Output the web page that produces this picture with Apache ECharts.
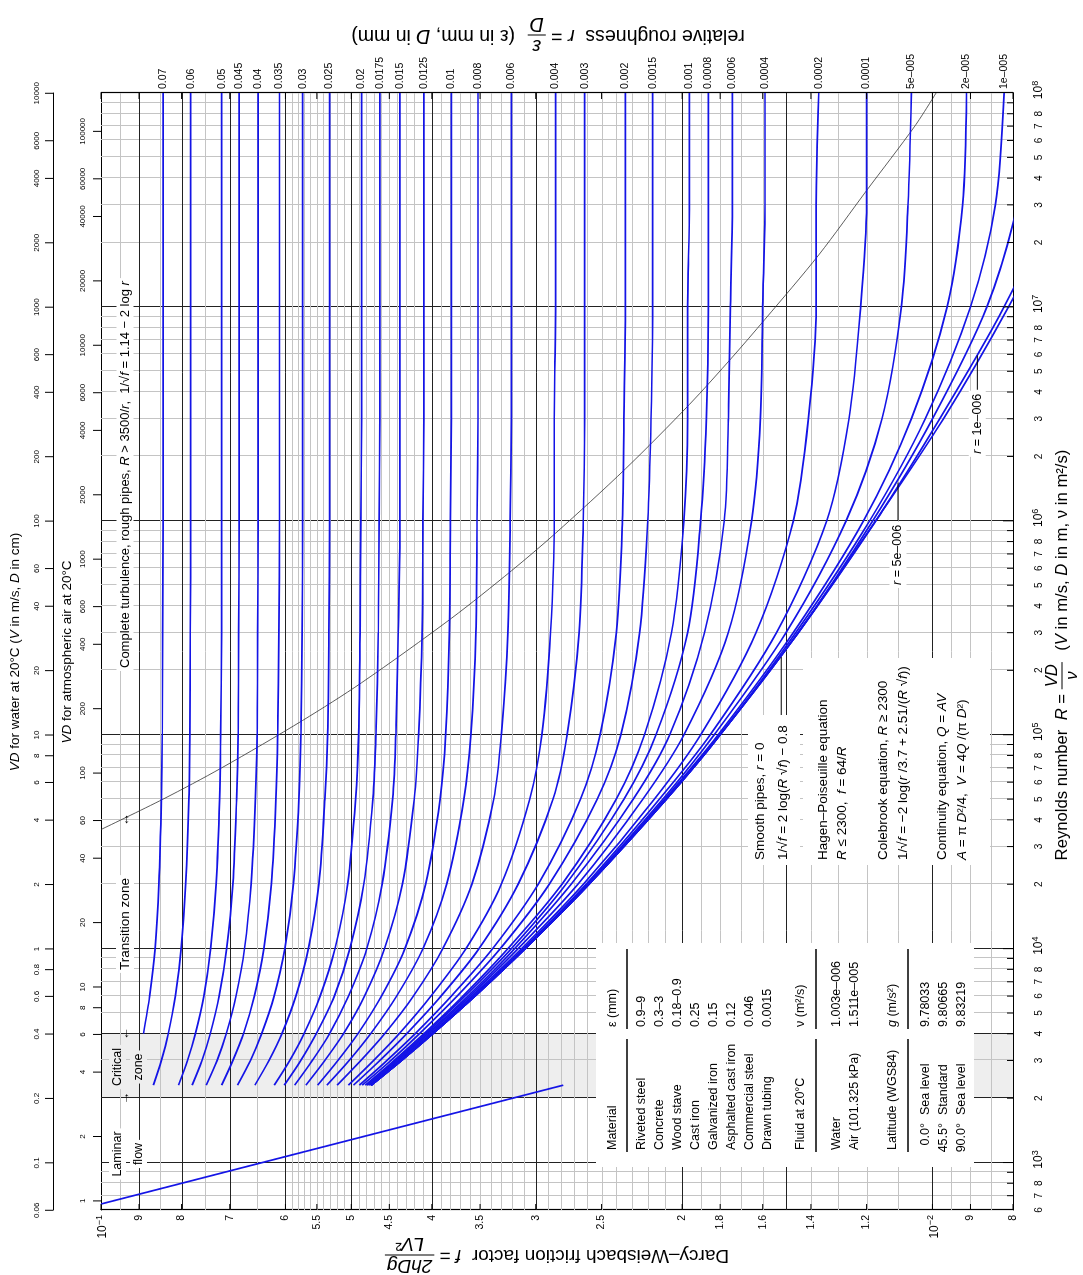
<!DOCTYPE html>
<html>
<head>
<meta charset="utf-8">
<title>Moody diagram</title>
<script src="https://cdn.jsdelivr.net/npm/echarts@6.0.0/dist/echarts.min.js"></script>
<style>
  html, body { margin: 0; padding: 0; background: #fff; width: 1083px; height: 1275px; overflow: hidden; }
  /* the diagram is laid out landscape and then turned a quarter turn counter-clockwise */
  #chart { position: absolute; left: 0; top: 0; width: 1275px; height: 1083px;
           transform-origin: 0 0; transform: translate(0, 1275px) rotate(-90deg); }
</style>
</head>
<body>
<div id="chart"></div>
<script>
const FONT = '"Liberation Sans", Arial, Helvetica, sans-serif';
const BLUE = '#1414e6';
const GRID_LIGHT = '#c4c4c4';
const GRID_DARK = '#222222';

// axis extents
const reMin = 600, reMax = 1e8;
const fMin = 0.008, fMax = 0.1;
const nuWater = 1.003e-6;   // m²/s, water at 20 °C
const nuAir = 1.511e-5;     // m²/s, air at 20 °C and 101.325 kPa

// Reynolds numbers at which the friction factor of every curve is listed
const reynoldsPoints = [2300, 3000, 4000, 6000, 1e4, 2e4, 5e4, 1e5, 3e5, 1e6, 3e6, 1e7, 3e7, 1e8];

// Colebrook curves, one friction-factor list per relative roughness
const f_0_07   = [null, null, 0.0889, 0.0874, 0.0861, 0.0852, 0.0846, 0.0844, 0.0843, 0.0842, 0.0842, 0.0842, 0.0842, 0.0842];
const f_0_06   = [0.0865, 0.0846, 0.0830, 0.0814, 0.0801, 0.0791, 0.0784, 0.0782, 0.0781, 0.0780, 0.0780, 0.0780, 0.0780, 0.0780];
const f_0_05   = [0.0807, 0.0787, 0.0770, 0.0752, 0.0738, 0.0727, 0.0720, 0.0718, 0.0716, 0.0716, 0.0716, 0.0716, 0.0716, 0.0716];
const f_0_045  = [0.0777, 0.0756, 0.0739, 0.0721, 0.0706, 0.0694, 0.0687, 0.0684, 0.0683, 0.0682, 0.0682, 0.0682, 0.0682, 0.0682];
const f_0_04   = [0.0747, 0.0725, 0.0707, 0.0688, 0.0672, 0.0660, 0.0652, 0.0649, 0.0648, 0.0647, 0.0647, 0.0647, 0.0647, 0.0647];
const f_0_035  = [0.0716, 0.0694, 0.0674, 0.0654, 0.0637, 0.0624, 0.0616, 0.0613, 0.0611, 0.0610, 0.0610, 0.0610, 0.0610, 0.0610];
const f_0_03   = [0.0685, 0.0661, 0.0641, 0.0619, 0.0601, 0.0587, 0.0578, 0.0575, 0.0573, 0.0572, 0.0572, 0.0572, 0.0572, 0.0572];
const f_0_025  = [0.0653, 0.0628, 0.0606, 0.0583, 0.0563, 0.0547, 0.0538, 0.0534, 0.0532, 0.0531, 0.0531, 0.0531, 0.0531, 0.0531];
const f_0_02   = [0.0619, 0.0593, 0.0570, 0.0545, 0.0523, 0.0505, 0.0494, 0.0490, 0.0488, 0.0487, 0.0486, 0.0486, 0.0486, 0.0486];
const f_0_0175 = [0.0602, 0.0575, 0.0551, 0.0524, 0.0502, 0.0483, 0.0471, 0.0467, 0.0464, 0.0463, 0.0462, 0.0462, 0.0462, 0.0462];
const f_0_015  = [0.0585, 0.0557, 0.0531, 0.0504, 0.0479, 0.0459, 0.0446, 0.0442, 0.0439, 0.0437, 0.0437, 0.0437, 0.0437, 0.0437];
const f_0_0125 = [0.0567, 0.0538, 0.0511, 0.0482, 0.0456, 0.0434, 0.0420, 0.0415, 0.0411, 0.0410, 0.0409, 0.0409, 0.0409, 0.0409];
const f_0_01   = [0.0549, 0.0519, 0.0491, 0.0460, 0.0431, 0.0407, 0.0391, 0.0385, 0.0381, 0.0380, 0.0379, 0.0379, 0.0379, 0.0379];
const f_0_008  = [0.0535, 0.0503, 0.0474, 0.0441, 0.0410, 0.0384, 0.0366, 0.0359, 0.0354, 0.0353, 0.0352, 0.0352, 0.0352, 0.0352];
const f_0_006  = [0.0520, 0.0487, 0.0456, 0.0421, 0.0388, 0.0358, 0.0337, 0.0330, 0.0324, 0.0322, 0.0321, 0.0321, 0.0321, 0.0321];
const f_0_004  = [0.0504, 0.0470, 0.0438, 0.0401, 0.0364, 0.0330, 0.0305, 0.0295, 0.0288, 0.0285, 0.0285, 0.0284, 0.0284, 0.0284];
const f_0_003  = [0.0497, 0.0462, 0.0429, 0.0390, 0.0351, 0.0315, 0.0286, 0.0275, 0.0266, 0.0263, 0.0262, 0.0262, 0.0262, 0.0262];
const f_0_002  = [0.0489, 0.0453, 0.0419, 0.0379, 0.0338, 0.0298, 0.0265, 0.0251, 0.0240, 0.0236, 0.0235, 0.0234, 0.0234, 0.0234];
const f_0_0015 = [0.0485, 0.0448, 0.0414, 0.0373, 0.0331, 0.0289, 0.0253, 0.0237, 0.0225, 0.0220, 0.0218, 0.0217, 0.0217, 0.0217];
const f_0_001  = [0.0481, 0.0444, 0.0409, 0.0367, 0.0324, 0.0279, 0.0240, 0.0222, 0.0206, 0.0199, 0.0197, 0.0197, 0.0196, 0.0196];
const f_0_0008 = [0.0479, 0.0442, 0.0407, 0.0365, 0.0321, 0.0276, 0.0235, 0.0215, 0.0197, 0.0190, 0.0187, 0.0186, 0.0186, 0.0186];
const f_0_0006 = [0.0478, 0.0441, 0.0405, 0.0362, 0.0318, 0.0272, 0.0229, 0.0207, 0.0188, 0.0178, 0.0176, 0.0175, 0.0174, 0.0174];
const f_0_0004 = [0.0476, 0.0439, 0.0403, 0.0360, 0.0315, 0.0267, 0.0223, 0.0199, 0.0176, 0.0165, 0.0161, 0.0160, 0.0159, 0.0159];
const f_0_0002 = [0.0474, 0.0437, 0.0401, 0.0358, 0.0312, 0.0263, 0.0216, 0.0190, 0.0163, 0.0147, 0.0141, 0.0138, 0.0138, 0.0137];
const f_0_0001 = [0.0474, 0.0436, 0.0400, 0.0356, 0.0310, 0.0261, 0.0213, 0.0185, 0.0154, 0.0134, 0.0126, 0.0122, 0.0120, 0.0120];
const f_5e_5   = [0.0473, 0.0436, 0.0400, 0.0356, 0.0310, 0.0260, 0.0211, 0.0183, 0.0150, 0.0127, 0.0115, 0.0109, 0.0107, 0.0106];
const f_2e_5   = [0.0473, 0.0435, 0.0399, 0.0355, 0.0309, 0.0259, 0.0210, 0.0181, 0.0147, 0.0121, 0.0106, 0.0096, 0.0092, 0.0091];
const f_1e_5   = [0.0473, 0.0435, 0.0399, 0.0355, 0.0309, 0.0259, 0.0209, 0.0180, 0.0146, 0.0119, 0.0102, 0.0090, 0.0084, 0.0082];
const f_5e_6   = [0.0473, 0.0435, 0.0399, 0.0355, 0.0309, 0.0259, 0.0209, 0.0180, 0.0145, 0.0118, 0.0100, 0.0086, 0.0079, 0.0075];
const f_1e_6   = [0.0473, 0.0435, 0.0399, 0.0355, 0.0309, 0.0259, 0.0209, 0.0180, 0.0145, 0.0117, 0.0098, 0.0082, 0.0072, 0.0065];
const f_smooth = [0.0473, 0.0435, 0.0399, 0.0355, 0.0309, 0.0259, 0.0209, 0.0180, 0.0145, 0.0117, 0.0097, 0.0081, 0.0070, 0.0059];

// curves labelled at the right-hand edge
const labelledCurves = [
  ['0.07', f_0_07], ['0.06', f_0_06], ['0.05', f_0_05], ['0.045', f_0_045], ['0.04', f_0_04],
  ['0.035', f_0_035], ['0.03', f_0_03], ['0.025', f_0_025], ['0.02', f_0_02], ['0.0175', f_0_0175],
  ['0.015', f_0_015], ['0.0125', f_0_0125], ['0.01', f_0_01], ['0.008', f_0_008], ['0.006', f_0_006],
  ['0.004', f_0_004], ['0.003', f_0_003], ['0.002', f_0_002], ['0.0015', f_0_0015], ['0.001', f_0_001],
  ['0.0008', f_0_0008], ['0.0006', f_0_0006], ['0.0004', f_0_0004], ['0.0002', f_0_0002], ['0.0001', f_0_0001],
  ['5e–005', f_5e_5], ['2e–005', f_2e_5], ['1e–005', f_1e_5]
];
// curves that leave through the bottom edge, labelled inside the plot
const unlabelledCurves = [['r = 5e-006', f_5e_6], ['r = 1e-006', f_1e_6], ['r = 0', f_smooth]];

// laminar flow, f = 64/R
const laminarRe = [640, 2300];
const laminarF = [0.1, 0.0278];

// onset of complete turbulence, R = 3500/r
const roughLimitRe = [36050, 50000, 70000, 116700, 175000, 350000, 583300, 875000, 1.75e6, 3.5e6, 5.83e6, 8.75e6, 1.75e7, 3.5e7, 7e7, 1e8];
const roughLimitF  = [0.1, 0.0842, 0.0716, 0.0572, 0.0486, 0.0379, 0.0321, 0.0284, 0.0234, 0.0196, 0.0174, 0.0159, 0.0137, 0.0120, 0.0105, 0.0099];

// critical zone and the zone-boundary arrows of the caption row
const criticalRe = [2000, 4000];
const zoneArrowRe = [2000, 4000, 40000];
const zoneArrowGlyph = ['→', '←', '↔'];

// friction-factor axis
const fTickValues = [0.1, 0.09, 0.08, 0.07, 0.06, 0.055, 0.05, 0.045, 0.04, 0.035, 0.03, 0.025, 0.02, 0.018, 0.016, 0.014, 0.012, 0.01, 0.009, 0.008];
const fTickLabels = ['10^−1', '9', '8', '7', '6', '5.5', '5', '4.5', '4', '3.5', '3', '2.5', '2', '1.8', '1.6', '1.4', '1.2', '10^−2', '9', '8'];
const fDarkLines = [0.01, 0.015, 0.02, 0.03, 0.04, 0.05, 0.06, 0.07, 0.08, 0.09];

// Reynolds-number axis labels
const reLabelValues = [600, 700, 800,
  1e3, 2e3, 3e3, 4e3, 5e3, 6e3, 7e3, 8e3,
  1e4, 2e4, 3e4, 4e4, 5e4, 6e4, 7e4, 8e4,
  1e5, 2e5, 3e5, 4e5, 5e5, 6e5, 7e5, 8e5,
  1e6, 2e6, 3e6, 4e6, 5e6, 6e6, 7e6, 8e6,
  1e7, 2e7, 3e7, 4e7, 5e7, 6e7, 7e7, 8e7, 1e8];
const reLabelTexts = ['6', '7', '8',
  '10^3', '2', '3', '4', '5', '6', '7', '8',
  '10^4', '2', '3', '4', '5', '6', '7', '8',
  '10^5', '2', '3', '4', '5', '6', '7', '8',
  '10^6', '2', '3', '4', '5', '6', '7', '8',
  '10^7', '2', '3', '4', '5', '6', '7', '8', '10^8'];
const reDarkLines = [1e3, 2e3, 4e3, 1e4, 1e5, 1e6, 1e7];

// VD scales (V in m/s, D in cm)
const waterVDLabels = [0.06, 0.1, 0.2, 0.4, 0.6, 0.8, 1, 2, 4, 6, 8, 10, 20, 40, 60, 100, 200, 400, 600, 1000, 2000, 4000, 6000, 10000];
const airVDLabels = [1, 2, 4, 6, 8, 10, 20, 40, 60, 100, 200, 400, 600, 1000, 2000, 4000, 6000, 10000, 20000, 40000, 60000, 100000];

// ---------------------------------------------------------------- helpers
const measureCtx = document.createElement('canvas').getContext('2d');
function tokenWidth(tokens, size) {
  let w = 0;
  for (const [t, it] of tokens) {
    measureCtx.font = (it ? 'italic ' : '') + size + 'px ' + FONT;
    w += measureCtx.measureText(t).width;
  }
  return w;
}
function richTokens(tokens) {
  return tokens.map(([t, it]) => (it ? '{i|' : '{n|') + t + '}').join('');
}
function richStyles(size) {
  return {
    n: { fontSize: size, fontFamily: FONT, fill: '#000' },
    i: { fontSize: size, fontFamily: FONT, fontStyle: 'italic', fill: '#000' }
  };
}
function tokText(x, y, tokens, size, align, extra) {
  return Object.assign({
    type: 'text', x, y, z: 60,
    style: { text: richTokens(tokens), rich: richStyles(size), fontSize: size, fontFamily: FONT,
             fill: '#000', align: align || 'left', verticalAlign: 'middle' }
  }, extra || {});
}
// "10^3" → 10 with a raised 3
function expLabel(str, size) {
  const m = /^(.*)\^(.*)$/.exec(str);
  if (!m) return { text: str, rich: undefined };
  return {
    text: '{b|' + m[1] + '}{s|' + m[2] + '}',
    rich: {
      b: { fontSize: size, fontFamily: FONT, fill: '#000' },
      s: { fontSize: Math.round(size * 0.72), fontFamily: FONT, fill: '#000', padding: [0, 0, Math.round(size * 0.62), 0] }
    }
  };
}
function labelEl(x, y, str, size, align, vAlign) {
  const r = expLabel(str, size);
  return { type: 'text', x, y,
    style: { text: r.text, rich: r.rich, fontSize: size, fontFamily: FONT, fill: '#000', align, verticalAlign: vAlign } };
}

// title line made of text runs and stacked fractions, centred on 0
function titleChildren(pieces, size) {
  const kids = [];
  let x = 0;
  for (const p of pieces) {
    if (p.frac) {
      const wn = tokenWidth(p.frac[0], size), wd = tokenWidth(p.frac[1], size);
      const w = Math.max(wn, wd) + 4;
      kids.push(tokText(x + w / 2, -size * 0.56, p.frac[0], size, 'center'));
      kids.push(tokText(x + w / 2, size * 0.6, p.frac[1], size, 'center'));
      kids.push({ type: 'line', z: 60, shape: { x1: x, y1: 0, x2: x + w, y2: 0 }, style: { stroke: '#000', lineWidth: 1 } });
      x += w + 2;
    } else {
      kids.push(tokText(x, 0, p, size, 'left'));
      x += tokenWidth(p, size);
    }
  }
  const half = x / 2;
  kids.forEach(k => {
    if (k.type === 'line') { k.shape.x1 -= half; k.shape.x2 -= half; } else { k.x -= half; }
  });
  return kids;
}
const near = (a, list) => list.some(b => Math.abs(a - b) < 1e-9 * Math.max(1, b));

// ---------------------------------------------------------------- grid values
const reGridValues = [];
for (let d = 100; d <= 1e7; d *= 10) {
  for (let n = 1; n <= 9; n++) { const v = n * d; if (v > reMin && v < reMax) reGridValues.push(v); }
}
const fGridValues = [];
for (let k = 17; k < 20; k++) fGridValues.push(k / 2000);   // 0.0085 … 0.0095
for (let k = 10; k < 60; k++) fGridValues.push(k / 1000);   // 0.010 … 0.059
for (let k = 12; k < 20; k++) fGridValues.push(k / 200);    // 0.060 … 0.095

// ---------------------------------------------------------------- series
const series = [];

// critical-zone shading
series.push({
  type: 'custom', xAxisIndex: 0, yAxisIndex: 0, z: 0, silent: true,
  data: [[criticalRe[0], fMax, criticalRe[1]]],
  renderItem: (params, api) => {
    const a = api.coord([api.value(0), fMax]);
    const b = api.coord([api.value(2), fMin]);
    return { type: 'rect', shape: { x: a[0], y: a[1], width: b[0] - a[0], height: b[1] - a[1] }, style: { fill: '#eeeeee' } };
  }
});

// Reynolds grid lines
series.push({
  type: 'custom', xAxisIndex: 0, yAxisIndex: 0, z: 1, silent: true,
  data: reGridValues.map(v => [v, fMax]),
  renderItem: (params, api) => {
    const v = api.value(0);
    const a = api.coord([v, fMax]), b = api.coord([v, fMin]);
    const dark = near(v, reDarkLines);
    const x = Math.round(a[0]) + 0.5;
    return { type: 'line', shape: { x1: x, y1: a[1], x2: x, y2: b[1] },
             style: { stroke: dark ? GRID_DARK : GRID_LIGHT, lineWidth: 1 } };
  }
});

// friction-factor grid lines
series.push({
  type: 'custom', xAxisIndex: 0, yAxisIndex: 0, z: 1, silent: true,
  data: fGridValues.map(v => [reMin, v]),
  renderItem: (params, api) => {
    const v = api.value(1);
    const a = api.coord([reMin, v]), b = api.coord([reMax, v]);
    const dark = near(v, fDarkLines);
    const y = Math.round(a[1]) + 0.5;
    return { type: 'line', shape: { x1: a[0], y1: y, x2: b[0], y2: y },
             style: { stroke: dark ? GRID_DARK : GRID_LIGHT, lineWidth: 1 } };
  }
});

// Reynolds ticks and labels
series.push({
  type: 'custom', xAxisIndex: 0, yAxisIndex: 0, z: 6, silent: true,
  data: reGridValues.map(v => [v, fMin]),
  renderItem: (params, api) => {
    const v = api.value(0);
    const p = api.coord([v, fMin]);
    const decade = near(v, [1e3, 1e4, 1e5, 1e6, 1e7]);
    const len = decade ? 10 : 6;
    return { type: 'line', shape: { x1: p[0], y1: p[1], x2: p[0], y2: p[1] - len }, style: { stroke: '#000', lineWidth: 1 } };
  }
});
series.push({
  type: 'custom', xAxisIndex: 0, yAxisIndex: 0, z: 6, silent: true,
  data: reLabelValues.map((v, i) => [v, fMin, i]),
  renderItem: (params, api) => {
    const i = api.value(2);
    const p = api.coord([api.value(0), fMin]);
    const txt = reLabelTexts[i];
    const isExp = txt.indexOf('^') >= 0;
    return labelEl(p[0] + (isExp ? 3 : 0), p[1] + 26, txt, isExp ? 12 : 10, 'center', 'middle');
  }
});

// friction ticks (both sides) and labels
series.push({
  type: 'custom', xAxisIndex: 0, yAxisIndex: 0, z: 6, silent: true,
  data: fTickValues.map((v, i) => [reMin, v, i]),
  renderItem: (params, api) => {
    const i = api.value(2), v = api.value(1);
    const a = api.coord([reMin, v]), b = api.coord([reMax, v]);
    const txt = fTickLabels[i];
    const isExp = txt.indexOf('^') >= 0;
    return { type: 'group', children: [
      { type: 'line', shape: { x1: a[0], y1: a[1], x2: a[0] + 6, y2: a[1] }, style: { stroke: '#000', lineWidth: 1 } },
      { type: 'line', shape: { x1: b[0] - 6, y1: b[1], x2: b[0], y2: b[1] }, style: { stroke: '#000', lineWidth: 1 } },
      labelEl(a[0] - 5, a[1] + (isExp ? 2 : 0), txt, isExp ? 12 : 10.5, 'right', 'middle')
    ] };
  }
});

// VD for water (outer scale above the plot)
series.push({
  type: 'custom', xAxisIndex: 2, yAxisIndex: 0, z: 6, silent: true,
  data: waterVDLabels.map(v => [v, fMax]),
  renderItem: (params, api) => {
    const v = api.value(0);
    const p = api.coord([v, fMax]);
    const y0 = p[1] - 48;
    return { type: 'group', children: [
      { type: 'line', shape: { x1: p[0], y1: y0, x2: p[0], y2: y0 - 8 }, style: { stroke: '#000', lineWidth: 1 } },
      labelEl(p[0], y0 - 16, String(v), 8, 'center', 'middle')
    ] };
  }
});
// VD for air (on the plot frame)
series.push({
  type: 'custom', xAxisIndex: 3, yAxisIndex: 0, z: 6, silent: true,
  data: airVDLabels.map(v => [v, fMax]),
  renderItem: (params, api) => {
    const v = api.value(0);
    const p = api.coord([v, fMax]);
    return { type: 'group', children: [
      { type: 'line', shape: { x1: p[0], y1: p[1], x2: p[0], y2: p[1] - 8 }, style: { stroke: '#000', lineWidth: 1 } },
      labelEl(p[0], p[1] - 18, String(v), 8, 'center', 'middle')
    ] };
  }
});

// zone-boundary arrows on the caption row
series.push({
  type: 'custom', xAxisIndex: 0, yAxisIndex: 0, z: 8, silent: true,
  data: zoneArrowRe.map((v, i) => [v, fMax, i]),
  renderItem: (params, api) => {
    const p = api.coord([api.value(0), fMax]);
    return { type: 'text', x: p[0], y: p[1] + 24,
      style: { text: zoneArrowGlyph[api.value(2)], fontSize: 13, fontFamily: FONT, fill: '#000', align: 'center', verticalAlign: 'middle' } };
  }
});

// onset of complete turbulence
series.push({
  type: 'line', xAxisIndex: 0, yAxisIndex: 0, z: 3, silent: true,
  data: roughLimitRe.map((re, i) => [re, roughLimitF[i]]),
  showSymbol: false, symbol: 'none', smooth: 0.3,
  lineStyle: { color: '#333', width: 0.8 }
});

// laminar line
series.push({
  type: 'line', xAxisIndex: 0, yAxisIndex: 0, z: 4, silent: true,
  data: laminarRe.map((re, i) => [re, laminarF[i]]),
  showSymbol: false, symbol: 'none',
  lineStyle: { color: BLUE, width: 1.7 }
});

// Colebrook curves
labelledCurves.concat(unlabelledCurves).forEach(([name, fr], k) => {
  const labelled = k < labelledCurves.length;
  series.push({
    type: 'line', name, xAxisIndex: 0, yAxisIndex: 0, z: 4, silent: true,
    data: reynoldsPoints.map((re, i) => [re, fr[i]]),
    showSymbol: false, symbol: 'none', smooth: 0.3,
    lineStyle: { color: BLUE, width: 1.7 },
    endLabel: labelled
      ? { show: true, formatter: '{a}', fontSize: 10.5, fontFamily: FONT, color: '#000', distance: 4 }
      : { show: false }
  });
});

// leader lines for the curves labelled inside the plot
const leaders = [
  { text: [['r', true], [' = 5e–006', false]], from: 1.0e6, to: 1.51e6, f: 0.0110 },
  { text: [['r', true], [' = 1e–006', false]], from: 4.1e6, to: 5.93e6, f: 0.00883 },
  { text: null, from: 1.21e5, to: 2.31e5, f: 0.0152 }
];
series.push({
  type: 'custom', xAxisIndex: 0, yAxisIndex: 0, z: 7, silent: true,
  data: leaders.map((l, i) => [l.from, l.f, l.to, i]),
  renderItem: (params, api) => {
    const l = leaders[api.value(3)];
    const a = api.coord([api.value(0), api.value(1)]);
    const b = api.coord([api.value(2), api.value(1)]);
    const kids = [{ type: 'line', shape: { x1: a[0], y1: a[1], x2: b[0], y2: b[1] }, style: { stroke: '#000', lineWidth: 1 } }];
    if (l.text) {
      const t = tokText(a[0] - 1, a[1], l.text, 12.5, 'right');
      t.style.backgroundColor = '#fff';
      t.style.padding = [2, 3, 2, 3];
      kids.push(t);
    }
    return { type: 'group', children: kids };
  }
});

// ---------------------------------------------------------------- fixed text blocks
const graphic = [];
const S = 12.5;

// zone captions along the top of the plot
function caption(x, y, lines, bg, size) {
  lines.forEach((ln, i) => {
    const t = tokText(x, y + (i - (lines.length - 1) / 2) * 21, ln, size, 'center');
    t.style.backgroundColor = bg; t.style.padding = [2, 3, 2, 3];
    graphic.push(t);
  });
}
caption(121, 128, [[['Laminar', false]], [['flow', false]]], '#fff', 12.5);
caption(208, 128, [[['Critical', false]], [['zone', false]]], '#eeeeee', 12.5);
caption(351, 125, [[['Transition zone', false]]], '#fff', 13.5);
(function () {
  const t = tokText(604, 125, [['Complete turbulence, rough pipes, ', false], ['R', true], [' > 3500/', false], ['r', true],
    [',  1/√', false], ['f', true], [' = 1.14 − 2 log ', false], ['r', true]], 13, 'left');
  t.style.backgroundColor = '#fff'; t.style.padding = [2, 3, 2, 3];
  graphic.push(t);
})();

// material / fluid / gravity table
graphic.push({ type: 'rect', z: 50, shape: { x: 108, y: 596, width: 224, height: 378 }, style: { fill: '#fff' } });
function tableRow(y, left, right) {
  graphic.push(tokText(125, y, left, S, 'left'));
  if (right) graphic.push(tokText(248, y, right, S, 'left'));
}
function tableRule(y) {
  graphic.push({ type: 'line', z: 60, shape: { x1: 123, y1: y, x2: 236, y2: y }, style: { stroke: '#000', lineWidth: 1.3 } });
  graphic.push({ type: 'line', z: 60, shape: { x1: 246, y1: y, x2: 326, y2: y }, style: { stroke: '#000', lineWidth: 1.3 } });
}
const materials = ['Riveted steel', 'Concrete', 'Wood stave', 'Cast iron', 'Galvanized iron', 'Asphalted cast iron', 'Commercial steel', 'Drawn tubing'];
const materialRoughness = ['0.9–9', '0.3–3', '0.18–0.9', '0.25', '0.15', '0.12', '0.046', '0.0015'];
tableRow(613, [['Material', false]], [['ε (mm)', false]]);
tableRule(627);
materials.forEach((m, i) => tableRow(642 + i * 17.9, [[m, false]], [[materialRoughness[i], false]]));
const fluids = ['Water', 'Air (101.325 kPa)'];
const fluidViscosity = ['1.003e–006', '1.511e–005'];
tableRow(801, [['Fluid at 20°C', false]], [['ν (m²/s)', false]]);
tableRule(816);
fluids.forEach((m, i) => tableRow(837 + i * 17.9, [[m, false]], [[fluidViscosity[i], false]]));
const latitudes = ['0.0°', '45.5°', '90.0°'];
const latitudeNames = ['Sea level', 'Standard', 'Sea level'];
const gravity = ['9.78033', '9.80665', '9.83219'];
tableRow(893, [['Latitude (WGS84)', false]], [['g', true], [' (m/s²)', false]]);
tableRule(908);
latitudes.forEach((lat, i) => {
  const y = 926 + i * 17.9;
  graphic.push(tokText(152, y, [[lat, false]], S, 'right'));
  graphic.push(tokText(160, y, [[latitudeNames[i], false]], S, 'left'));
  graphic.push(tokText(248, y, [[gravity[i], false]], S, 'left'));
});

// equations
graphic.push({ type: 'rect', z: 50, shape: { x: 410, y: 748, width: 150, height: 52 }, style: { fill: '#fff' } });
graphic.push({ type: 'rect', z: 50, shape: { x: 410, y: 803, width: 207, height: 187 }, style: { fill: '#fff' } });
const eqLines = [
  [760, [['Smooth pipes, ', false], ['r', true], [' = 0', false]]],
  [783, [['1/√', false], ['f', true], [' = 2 log(', false], ['R', true], [' √', false], ['f', true], [') − 0.8', false]]],
  [823, [['Hagen–Poiseuille equation', false]]],
  [842, [['R', true], [' ≤ 2300,  ', false], ['f', true], [' = 64/', false], ['R', true]]],
  [883, [['Colebrook equation, ', false], ['R', true], [' ≥ 2300', false]]],
  [903, [['1/√', false], ['f', true], [' = −2 log(', false], ['r', true], [' /3.7 + 2.51/(', false], ['R', true], [' √', false], ['f', true], ['))', false]]],
  [942, [['Continuity equation, ', false], ['Q', true], [' = ', false], ['AV', true]]],
  [962, [['A', true], [' = π ', false], ['D', true], ['²/4,  ', false], ['V', true], [' = 4', false], ['Q', true], [' /(π ', false], ['D', true], ['²)', false]]]
];
eqLines.forEach(([y, toks]) => graphic.push(tokText(415, y, toks, 13.5, 'left')));

// axis titles
graphic.push({ type: 'group', x: 620, y: 1062, z: 60,
  children: titleChildren([
    [['Reynolds number  ', false], ['R', true], [' = ', false]],
    { frac: [[['VD', true]], [['ν', true]]] },
    [['  (', false], ['V', true], [' in m/s, ', false], ['D', true], [' in m, ν in m²/s)', false]]
  ], 16.7) });
graphic.push({ type: 'group', x: 20, y: 556, rotation: Math.PI / 2, z: 60,
  children: titleChildren([
    [['Darcy–Weisbach friction factor  ', false], ['f', true], [' = ', false]],
    { frac: [[['2hDg', true]], [['LV', true], ['²', false]]] }
  ], 19) });
graphic.push({ type: 'group', x: 1240, y: 548, rotation: Math.PI / 2, z: 60,
  children: titleChildren([
    [['relative roughness  ', false], ['r', true], [' = ', false]],
    { frac: [[['ε', true]], [['D', true]]] },
    [['  (ε in mm, ', false], ['D', true], [' in mm)', false]]
  ], 19.5) });
graphic.push(tokText(623, 15, [['VD', true], [' for water at 20°C (', false], ['V', true], [' in m/s, ', false], ['D', true], [' in cm)', false]], 13.5, 'center'));
graphic.push(tokText(623, 67, [['VD', true], [' for atmospheric air at 20°C', false]], 13.5, 'center'));

// ---------------------------------------------------------------- chart
const logAxis = (extra) => Object.assign({
  type: 'log', logBase: 10,
  axisLabel: { show: false }, axisTick: { show: false }, splitLine: { show: false },
  axisLine: { show: true, lineStyle: { color: '#000', width: 1.2 } }
}, extra);

const chart = echarts.init(document.getElementById('chart'), null, { renderer: 'canvas', width: 1275, height: 1083 });
chart.setOption({
  animation: false,
  backgroundColor: '#fff',
  textStyle: { fontFamily: FONT },
  grid: { left: 65, right: 93, top: 101, bottom: 70, containLabel: false },
  xAxis: [
    logAxis({ min: reMin, max: reMax, position: 'bottom' }),
    logAxis({ min: reMin, max: reMax, position: 'top' }),
    logAxis({ min: reMin * nuWater * 100, max: reMax * nuWater * 100, position: 'top', offset: 48 }),
    logAxis({ min: reMin * nuAir * 100, max: reMax * nuAir * 100, position: 'top', axisLine: { show: false } })
  ],
  yAxis: [
    logAxis({ min: fMin, max: fMax, position: 'left' }),
    logAxis({ min: fMin, max: fMax, position: 'right' })
  ],
  series,
  graphic
});
</script>
</body>
</html>
